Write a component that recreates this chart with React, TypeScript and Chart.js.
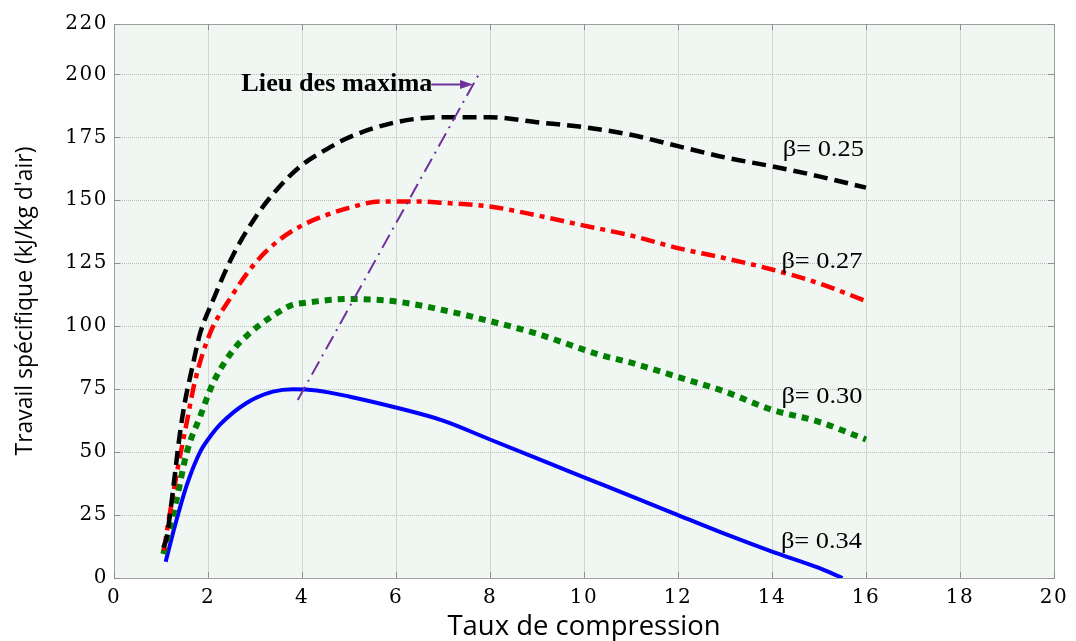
import React, { useEffect, useRef } from "react";
import { Chart, registerables } from "chart.js";

Chart.register(...registerables);

// ---- Data ----
const xTicks = [0, 2, 4, 6, 8, 10, 12, 14, 16, 18, 20];
const yTicks = [0, 25, 50, 75, 100, 125, 150, 175, 200, 220];

const b25X = [1.05, 1.12, 1.23, 1.4, 1.51, 1.67, 1.83, 2.1, 2.5, 3, 3.5, 4, 4.5, 5, 6, 7, 8, 9, 10, 11, 12, 13, 14, 15, 16];
const b25Y = [12, 16, 31, 57, 70, 84, 97, 110, 127, 143, 155, 164, 170, 175, 181, 183, 183, 181, 179, 176, 171.5, 167, 163.5, 159.5, 155];

const b27X = [1.06, 1.2, 1.36, 1.55, 1.72, 2.04, 2.47, 3, 3.5, 4, 4.5, 5, 5.66, 6.5, 7, 8, 9, 9.91, 11, 12, 13, 14, 15, 16];
const b27Y = [11, 27, 44, 62, 78, 97, 111, 125, 134, 140, 144, 147, 149.5, 149.5, 149, 147.5, 144, 140.3, 136, 131, 127, 122.5, 117, 110];

const b30X = [1.05, 1.33, 1.55, 1.83, 2.11, 2.54, 2.89, 3.25, 3.8, 4.03, 5, 6, 7.15, 8, 9, 10.34, 11, 11.97, 13, 14, 15, 16];
const b30Y = [9.5, 31, 50, 64, 77.5, 90.6, 97.3, 102.5, 108.5, 109.2, 110.8, 109.8, 105.8, 102, 97, 88.6, 85.5, 80, 74, 66.8, 62, 55];

const b34X = [1.1, 1.3, 1.55, 1.83, 2.0, 2.26, 2.82, 3.38, 3.81, 4.31, 5.02, 6.06, 7, 8, 9, 10, 11, 12, 13, 14, 15, 15.5];
const b34Y = [6.5, 21, 37, 50, 55, 61, 69.5, 74, 75, 74.5, 72, 67.4, 62.5, 55, 47.5, 40, 32.5, 25, 17.5, 10.5, 4, 0];

const maximaX = [3.91, 7.79];
const maximaY = [70.7, 201];

const arrowX = [6.75, 7.64];
const arrowY = [196, 196];

const betaLabels = ["β= 0.25", "β= 0.27", "β= 0.30", "β= 0.34"];
const betaLabelX = [14.23, 14.2, 14.2, 14.19];
const betaLabelY = [167.7, 123.2, 69.6, 11.9];

const maximaText = "Lieu des maxima";
const maximaTextX = 2.71;
const maximaTextY = 193.3;

const xTitle = "Taux de compression";
const yTitle = "Travail spécifique (kJ/kg d'air)";

const pts = (xs: number[], ys: number[]) => xs.map((x, i) => ({ x, y: ys[i] }));

function drawFitted(ctx: CanvasRenderingContext2D, text: string, x: number, y: number, width: number) {
  const w = ctx.measureText(text).width;
  const s = width / w;
  ctx.save();
  ctx.translate(x, y);
  ctx.scale(s, 1);
  ctx.fillText(text, 0, 0);
  ctx.restore();
}

const decorPlugin = {
  id: "decor",
  beforeDraw(chart: any) {
    const { ctx, chartArea } = chart;
    const { left, top, right, bottom } = chartArea;
    ctx.save();
    ctx.fillStyle = "#f0f6f2";
    ctx.fillRect(left, top, right - left, bottom - top);
    ctx.restore();
    (ctx as any).letterSpacing = "1.5px";
  },
  beforeDatasetsDraw(chart: any) {
    (chart.ctx as any).letterSpacing = "0px";
  },
  afterDatasetsDraw(chart: any) {
    const { ctx, chartArea, scales } = chart;
    const { left, top, right, bottom } = chartArea;
    const xs = scales.x;
    const ys = scales.y;
    ctx.save();
    (ctx as any).letterSpacing = "0px";

    // frame
    ctx.strokeStyle = "#a0a0a0";
    ctx.lineWidth = 1;
    ctx.setLineDash([]);
    ctx.strokeRect(Math.round(left) + 0.5, Math.round(top) + 0.5, Math.round(right - left), Math.round(bottom - top));

    // inner tick marks
    ctx.strokeStyle = "#909090";
    ctx.beginPath();
    yTicks.forEach((v) => {
      const py = Math.round(ys.getPixelForValue(v)) + 0.5;
      ctx.moveTo(left, py);
      ctx.lineTo(left + 6, py);
      ctx.moveTo(right, py);
      ctx.lineTo(right - 6, py);
    });
    xTicks.forEach((v) => {
      const px = Math.round(xs.getPixelForValue(v)) + 0.5;
      ctx.moveTo(px, bottom);
      ctx.lineTo(px, bottom - 6);
      ctx.moveTo(px, top);
      ctx.lineTo(px, top + 6);
    });
    ctx.stroke();

    // arrow
    const ax1 = xs.getPixelForValue(arrowX[0]);
    const ax2 = xs.getPixelForValue(arrowX[1]);
    const ay1 = ys.getPixelForValue(arrowY[0]);
    const ay2 = ys.getPixelForValue(arrowY[1]);
    ctx.strokeStyle = "#7030a0";
    ctx.fillStyle = "#7030a0";
    ctx.lineWidth = 2;
    ctx.beginPath();
    ctx.moveTo(ax1, ay1);
    ctx.lineTo(ax2 - 10, ay2);
    ctx.stroke();
    ctx.beginPath();
    ctx.moveTo(ax2, ay2);
    ctx.lineTo(ax2 - 13, ay2 - 4.5);
    ctx.lineTo(ax2 - 13, ay2 + 4.5);
    ctx.closePath();
    ctx.fill();

    // labels
    ctx.fillStyle = "#000";
    ctx.textAlign = "left";
    ctx.textBaseline = "alphabetic";
    ctx.font = '24px "Liberation Serif"';
    betaLabels.forEach((t, i) => {
      drawFitted(ctx, t, xs.getPixelForValue(betaLabelX[i]), ys.getPixelForValue(betaLabelY[i]), 81);
    });
    ctx.font = 'bold 25px "Liberation Serif"';
    drawFitted(ctx, maximaText, xs.getPixelForValue(maximaTextX), ys.getPixelForValue(maximaTextY), 191);

    ctx.restore();
  },
  afterDraw(chart: any) {
    const { ctx, chartArea } = chart;
    const { left, top, right, bottom } = chartArea;
    ctx.save();
    (ctx as any).letterSpacing = "0px";
    ctx.fillStyle = "#000";
    ctx.textAlign = "center";
    ctx.textBaseline = "alphabetic";
    ctx.font = '27px "Open Sans"';
    drawFitted(ctx, xTitle, (left + right) / 2, 635, 273);
    ctx.save();
    ctx.translate(32, (top + bottom) / 2);
    ctx.rotate(-Math.PI / 2);
    ctx.font = '24px "Open Sans"';
    drawFitted(ctx, yTitle, 0, 0, 309);
    ctx.restore();
    ctx.restore();
  },
};

export default function App() {
  const ref = useRef<HTMLCanvasElement | null>(null);
  useEffect(() => {
    document.body.style.margin = "0";
    const canvas = ref.current;
    if (!canvas) return;
    const chart = new Chart(canvas, {
      type: "line",
      data: {
        datasets: [
          {
            label: "maxima",
            data: pts(maximaX, maximaY),
            borderColor: "#7030a0",
            borderWidth: 2,
            borderDash: [15, 6, 2, 6],
            pointRadius: 0,
            tension: 0,
          },
          {
            label: "β= 0.25",
            data: pts(b25X, b25Y),
            borderColor: "#000000",
            borderWidth: 4.5,
            borderDash: [14, 7],
            borderCapStyle: "butt",
            pointRadius: 0,
            cubicInterpolationMode: "monotone",
          },
          {
            label: "β= 0.27",
            data: pts(b27X, b27Y),
            borderColor: "#ff0000",
            borderWidth: 4.5,
            borderDash: [14, 6, 5, 6],
            borderCapStyle: "butt",
            pointRadius: 0,
            cubicInterpolationMode: "monotone",
          },
          {
            label: "β= 0.30",
            data: pts(b30X, b30Y),
            borderColor: "#008000",
            borderWidth: 6,
            borderDash: [7, 6],
            borderCapStyle: "butt",
            pointRadius: 0,
            cubicInterpolationMode: "monotone",
          },
          {
            label: "β= 0.34",
            data: pts(b34X, b34Y),
            borderColor: "#0000ff",
            borderWidth: 4,
            pointRadius: 0,
            cubicInterpolationMode: "monotone",
          },
        ],
      },
      options: {
        animation: false,
        responsive: false,
        maintainAspectRatio: false,
        layout: { padding: { top: 24, right: 22, left: 0, bottom: 0 } },
        plugins: {
          legend: { display: false },
          tooltip: { enabled: false },
        },
        scales: {
          x: {
            type: "linear",
            min: 0,
            max: 20,
            afterBuildTicks: (s: any) => {
              s.ticks = xTicks.map((v) => ({ value: v }));
            },
            afterFit: (s: any) => {
              s.height = 63;
            },
            grid: { color: "#d2d6d2", lineWidth: 1, drawTicks: false },
            border: { display: false },
            ticks: {
              padding: 8,
              color: "#000",
              maxRotation: 0,
              autoSkip: false,
              font: { family: '"DejaVu Serif"', size: 20 },
            },
          },
          y: {
            type: "linear",
            min: 0,
            max: 220,
            afterBuildTicks: (s: any) => {
              s.ticks = yTicks.map((v) => ({ value: v }));
            },
            afterFit: (s: any) => {
              s.width = 114;
            },
            grid: { color: "#bcbcbc", lineWidth: 1, drawTicks: false },
            border: { display: false, dash: [1, 1] },
            ticks: {
              padding: 6,
              color: "#000",
              autoSkip: false,
              font: { family: '"DejaVu Serif"', size: 20 },
            },
          },
        },
      },
      plugins: [decorPlugin],
    } as any);
    return () => chart.destroy();
  }, []);
  return <canvas ref={ref} width={1076} height={641} style={{ display: "block" }} />;
}
